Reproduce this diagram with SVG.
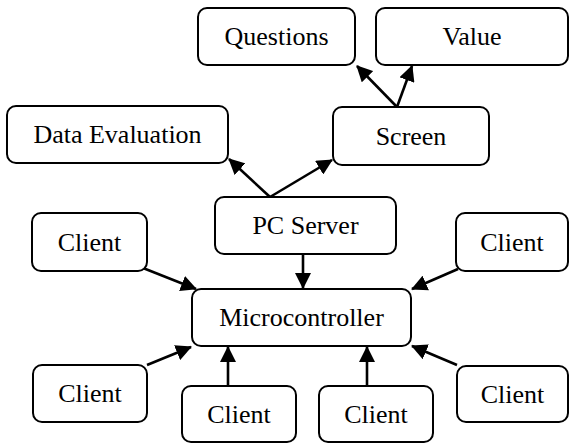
<svg xmlns="http://www.w3.org/2000/svg" width="569" height="443" viewBox="0 0 569 443">
<style>
.box{fill:#fff;stroke:#000;stroke-width:2}
.lbl{font-family:"Liberation Serif","Times New Roman",serif;font-size:26px;fill:#000;text-anchor:middle}
.edge{stroke:#000;stroke-width:2.6;fill:none;marker-end:url(#ah)}
</style>
<defs>
<marker id="ah" viewBox="0 0 16 16" refX="15" refY="8" markerWidth="16" markerHeight="16" markerUnits="userSpaceOnUse" orient="auto">
<path d="M0,0 L16,8 L0,16 z" fill="#000"/>
</marker>
</defs>
<rect width="569" height="443" fill="#fff"/>
<g id="connectors">
<line class="edge" x1="397" y1="107" x2="357" y2="66"/>
<line class="edge" x1="397" y1="107" x2="412" y2="66"/>
<line class="edge" x1="270" y1="197" x2="229" y2="159"/>
<line class="edge" x1="270" y1="197" x2="332" y2="160"/>
<line class="edge" x1="303" y1="254" x2="303" y2="288"/>
<line class="edge" x1="143" y1="268" x2="196" y2="289"/>
<line class="edge" x1="458" y1="269" x2="412" y2="289"/>
<line class="edge" x1="147" y1="365" x2="191" y2="347"/>
<line class="edge" x1="228" y1="386" x2="228" y2="347"/>
<line class="edge" x1="367" y1="386" x2="367" y2="347"/>
<line class="edge" x1="457" y1="365" x2="412" y2="346"/>
</g>
<g id="questions"><rect class="box" x="198" y="8" width="157" height="57" rx="9"/><text class="lbl" x="276.5" y="45">Questions</text></g>
<g id="value"><rect class="box" x="376" y="8" width="192" height="57" rx="9"/><text class="lbl" x="472" y="45">Value</text></g>
<g id="data-evaluation"><rect class="box" x="7" y="106" width="221" height="57" rx="9"/><text class="lbl" x="117.5" y="143">Data Evaluation</text></g>
<g id="screen"><rect class="box" x="333" y="107" width="156" height="58" rx="9"/><text class="lbl" x="411" y="144.5">Screen</text></g>
<g id="pc-server"><rect class="box" x="215" y="197" width="181" height="57" rx="9"/><text class="lbl" x="305.5" y="234">PC Server</text></g>
<g id="client-tl"><rect class="box" x="32" y="213" width="115" height="58" rx="9"/><text class="lbl" x="89.5" y="250.5">Client</text></g>
<g id="client-tr"><rect class="box" x="456" y="213" width="112" height="58" rx="9"/><text class="lbl" x="512" y="250.5">Client</text></g>
<g id="microcontroller"><rect class="box" x="192" y="289" width="219" height="57" rx="9"/><text class="lbl" x="301.5" y="326">Microcontroller</text></g>
<g id="client-bl"><rect class="box" x="33" y="365" width="114" height="57" rx="9"/><text class="lbl" x="90" y="402">Client</text></g>
<g id="client-br"><rect class="box" x="457" y="366" width="111" height="56" rx="9"/><text class="lbl" x="512.5" y="402.5">Client</text></g>
<g id="client-bm1"><rect class="box" x="182" y="386" width="114" height="56" rx="9"/><text class="lbl" x="239" y="422.5">Client</text></g>
<g id="client-bm2"><rect class="box" x="319" y="386" width="114" height="56" rx="9"/><text class="lbl" x="376" y="422.5">Client</text></g>
</svg>
